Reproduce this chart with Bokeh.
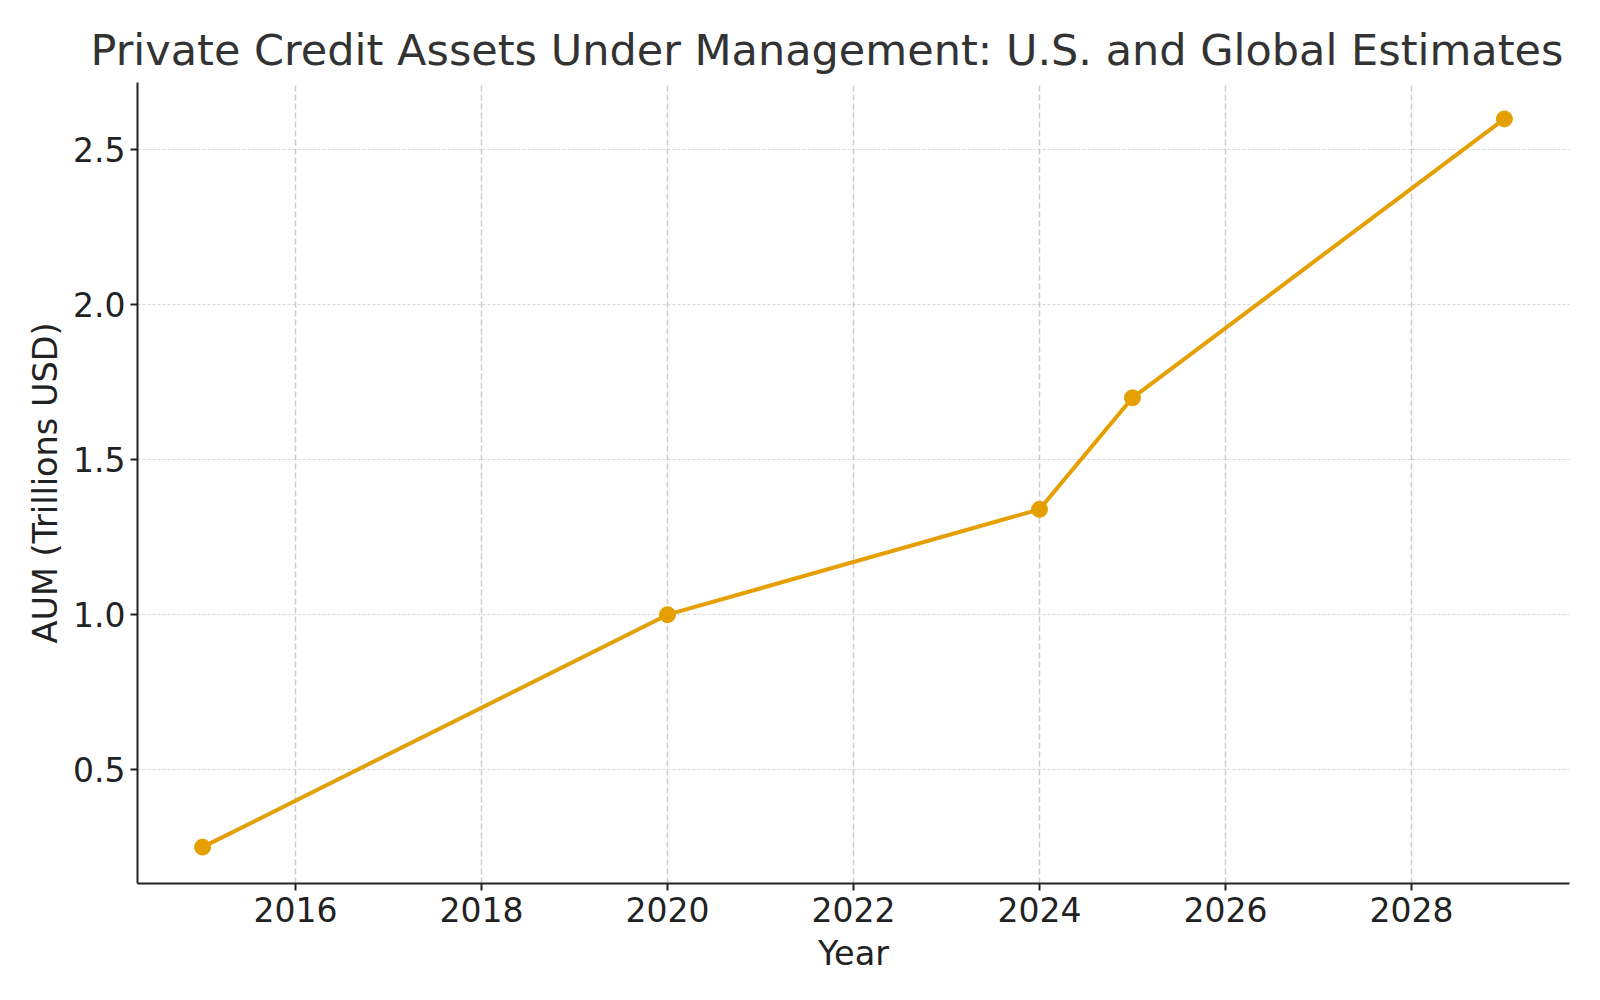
from bokeh.plotting import figure
from bokeh.models import ColumnDataSource, FixedTicker, NumeralTickFormatter, Range1d
from bokeh.embed import file_html
from bokeh.resources import INLINE

years = [2015, 2020, 2024, 2025, 2029]
aum = [0.25, 1.00, 1.34, 1.70, 2.60]
x_ticks = [2016, 2018, 2020, 2022, 2024, 2026, 2028]
y_ticks = [0.5, 1.0, 1.5, 2.0, 2.5]

title = "Private Credit Assets Under Management: U.S. and Global Estimates"
x_label = "Year"
y_label = "AUM (Trillions USD)"
color = "#E69F00"
font = "DejaVu Sans"

src = ColumnDataSource(dict(year=years, aum=aum))

p = figure(width=1584, height=984, output_backend="svg", toolbar_location=None,
           x_range=Range1d(2014.3, 2029.7), y_range=Range1d(0.1325, 2.7175),
           min_border_left=137, min_border_right=15, min_border_top=82,
           min_border_bottom=101)

p.title.text = title
p.title.text_font = font
p.title.text_font_size = "43px"
p.title.text_font_style = "normal"
p.title.text_color = "#333333"
p.title.align = "left"
p.title.offset = -47
p.title.standoff = 15

p.outline_line_color = None
p.background_fill_color = "white"
p.border_fill_color = "white"

for ax in (p.xaxis[0], p.yaxis[0]):
    ax.axis_line_color = "#222222"
    ax.axis_line_width = 2
    ax.major_tick_line_color = "#222222"
    ax.major_tick_line_width = 2
    ax.major_tick_out = 7
    ax.major_tick_in = 0
    ax.minor_tick_line_color = None
    ax.major_label_text_font = font
    ax.major_label_text_font_size = "33px"
    ax.major_label_text_color = "#222222"
    ax.axis_label_text_font = font
    ax.axis_label_text_font_size = "33.5px"
    ax.axis_label_text_color = "#222222"
    ax.axis_label_text_font_style = "normal"

p.xaxis.ticker = FixedTicker(ticks=x_ticks)
p.yaxis.ticker = FixedTicker(ticks=y_ticks)
p.yaxis.formatter = NumeralTickFormatter(format="0.0")
p.xaxis.axis_label = x_label
p.yaxis.axis_label = y_label
p.xaxis.major_label_standoff = 6
p.yaxis.major_label_standoff = 5
p.xaxis.axis_label_standoff = 9
p.yaxis.axis_label_standoff = 5

p.xgrid.grid_line_color = "#cccccc"
p.xgrid.grid_line_width = 1.5
p.xgrid.grid_line_dash = "6 3"
p.ygrid.grid_line_color = "#cccccc"
p.ygrid.grid_line_width = 0.8
p.ygrid.grid_line_dash = "3 2"

p.line("year", "aum", source=src, line_color=color, line_width=4)
p.scatter("year", "aum", source=src, size=16, fill_color=color, line_color=color)

open("out.html", "w").write(file_html(p, INLINE))
